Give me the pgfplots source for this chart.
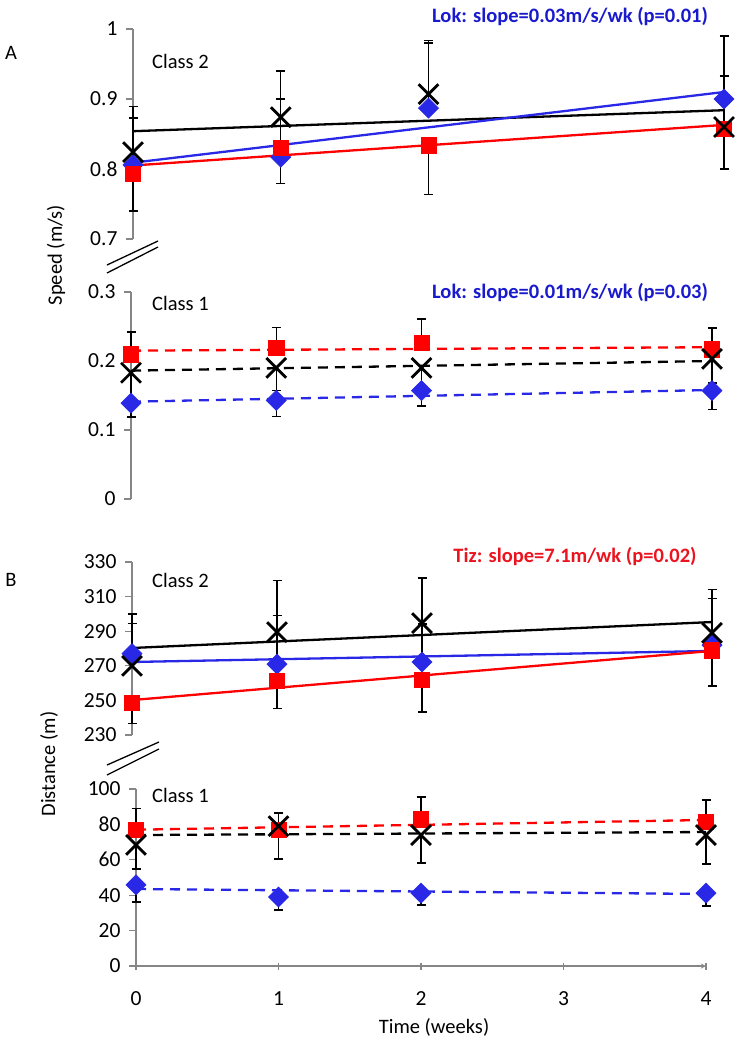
\documentclass[border=0pt]{standalone}
\usepackage{fontspec}
\setmainfont{Carlito}
\usepackage{pgfplots}
\usepackage{pgfplotstable}
\pgfplotsset{compat=1.18}
\definecolor{cblue}{RGB}{40,40,230}
\definecolor{cred}{RGB}{255,0,0}
\definecolor{cgray}{RGB}{134,134,134}
\definecolor{tblue}{RGB}{25,25,205}
\definecolor{tred}{RGB}{235,20,30}
\newcommand\bigf{\fontsize{20.5}{24}\selectfont}
\newcommand\tickf{\fontsize{21.5}{26}\selectfont}

% Speed, Class 2
\pgfplotstableread{
x black blackE blue blueE red redE
0 0.824 0.065 0.806 0.067 0.793 0.053
1 0.874 0.066 0.817 0.083 0.830 0.051
2 0.907 0.077 0.887 0.093 0.834 0.070
4 0.860 0.073 0.900 0.090 0.858 0.058
}\speedtwo
% Speed, Class 1
\pgfplotstableread{
x black blackE blue blueE red redE
0 0.183 0.040 0.139 0.020 0.210 0.032
1 0.190 0.033 0.143 0.023 0.219 0.030
2 0.190 0.030 0.157 0.022 0.226 0.035
4 0.203 0.035 0.157 0.027 0.217 0.031
}\speedone
% Distance, Class 2
\pgfplotstableread{
x black blackE blue blueE red redE
0 270.0 30.0 277.0 17.5 248.5 12.0
1 289.5 30.0 271.0 28.0 261.2 16.0
2 294.7 26.0 272.2 22.0 261.8 18.5
4 289.0 25.0 282.0 27.0 279.0 20.7
}\disttwo
% Distance, Class 1
\pgfplotstableread{
x black blackE blue blueE red redE
0 68.4 13.6 45.8 9.6 76.8 12.0
1 79.0 18.5 39.0 7.4 76.8  9.6
2 74.0 15.8 41.2 6.7 83.0 12.5
4 74.0 16.4 41.2 7.3 81.4 12.4
}\distone

\pgfplotsset{
  panel/.style={
    scale only axis, anchor=south west, clip=false,
    xmin=0, xmax=4,
    axis y line=left,
    axis line style={cgray, line width=1.3pt, -},
    tick style={cgray, line width=1.3pt},
    tick align=outside, major tick length=7pt,
    ticklabel style={font=\tickf, black},
    yticklabel style={xshift=-5pt},
    /pgf/number format/assume math mode=true,
  },
  errb/.style={draw=none, mark=none, forget plot,
    error bars/.cd, y explicit, y dir=#1,
    error bar style={black, line width=1.3pt},
    error mark options={black, line width=1.3pt, mark size=4.5pt, rotate=90}},
  trend/.style={mark=none, line width=2.3pt, forget plot},
  dsh/.style={dash pattern=on 10pt off 7pt},
  mblack/.style={only marks, mark=x, mark size=14pt, mark options={black, line width=2.8pt}},
  mblue/.style={only marks, mark=square*, mark size=7.1pt, mark options={rotate=45, fill=cblue, draw=cblue, line width=0.6pt}},
  mred/.style={only marks, mark=square*, mark size=7.6pt, mark options={fill=cred, draw=cred, line width=0.4pt}},
}

\begin{document}
\begin{tikzpicture}[x=1pt,y=-1pt]
\useasboundingbox (0,0) rectangle (740,1049);

% ---------- A: Speed, Class 2 ----------
\begin{axis}[panel, axis x line=none, at={(133pt,-239pt)}, width=591pt, height=210pt,
  ymin=0.7, ymax=1, ytick={0.7,0.8,0.9,1}, yticklabels={0.7,0.8,0.9,1}]
\addplot[errb=plus] table[x=x, y=black, y error=blackE] {\speedtwo};
\addplot[errb=plus] table[x=x, y=blue, y error=blueE] {\speedtwo};
\addplot[errb=minus] table[x=x, y=red, y error=redE] {\speedtwo};
\addplot[trend, black] coordinates {(0,0.854) (4,0.884)};
\addplot[trend, cblue] coordinates {(0,0.809) (4,0.910)};
\addplot[trend, cred] coordinates {(0,0.805) (4,0.863)};
\addplot[mblue] table[x=x, y=blue] {\speedtwo};
\addplot[mred] table[x=x, y=red] {\speedtwo};
\addplot[mblack] table[x=x, y=black] {\speedtwo};
\end{axis}

% ---------- A: Speed, Class 1 ----------
\begin{axis}[panel, axis x line=none, at={(131pt,-499pt)}, width=581pt, height=207pt,
  ymin=0, ymax=0.3, ytick={0,0.1,0.2,0.3}, yticklabels={0,0.1,0.2,0.3}]
\addplot[errb=minus] table[x=x, y=black, y error=blackE] {\speedone};
\addplot[errb=minus] table[x=x, y=blue, y error=blueE] {\speedone};
\addplot[errb=plus] table[x=x, y=red, y error=redE] {\speedone};
\addplot[trend, dsh, black] coordinates {(0,0.186) (4,0.200)};
\addplot[trend, dsh, cblue] coordinates {(0,0.141) (4,0.158)};
\addplot[trend, dsh, cred] coordinates {(0,0.215) (4,0.220)};
\addplot[mblue] table[x=x, y=blue] {\speedone};
\addplot[mred] table[x=x, y=red] {\speedone};
\addplot[mblack] table[x=x, y=black] {\speedone};
\end{axis}

% ---------- B: Distance, Class 2 ----------
\begin{axis}[panel, axis x line=none, at={(132pt,-735pt)}, width=580pt, height=173pt,
  ymin=230, ymax=330, ytick={230,250,...,330}, yticklabels={230,250,270,290,310,330}]
\addplot[errb=plus] table[x=x, y=black, y error=blackE] {\disttwo};
\addplot[errb=plus] table[x=x, y=blue, y error=blueE] {\disttwo};
\addplot[errb=minus] table[x=x, y=red, y error=redE] {\disttwo};
\addplot[trend, black] coordinates {(0,280.3) (4,295.3)};
\addplot[trend, cblue] coordinates {(0,272.2) (4,278.6)};
\addplot[trend, cred] coordinates {(0,250.2) (4,278.6)};
\addplot[mblue] table[x=x, y=blue] {\disttwo};
\addplot[mred] table[x=x, y=red] {\disttwo};
\addplot[mblack] table[x=x, y=black] {\disttwo};
\end{axis}

% ---------- B: Distance, Class 1 ----------
\begin{axis}[panel, axis x line=bottom, at={(136pt,-966pt)}, width=570pt, height=177pt,
  ymin=0, ymax=100, ytick={0,20,...,100}, yticklabels={0,20,40,60,80,100},
  xtick={0,1,2,3,4}, xticklabels={0,1,2,3,4},
  xticklabel style={yshift=-19pt}]
\addplot[errb=minus] table[x=x, y=black, y error=blackE] {\distone};
\addplot[errb=minus] table[x=x, y=blue, y error=blueE] {\distone};
\addplot[errb=plus] table[x=x, y=red, y error=redE] {\distone};
\addplot[trend, dsh, black] coordinates {(0,74.0) (4,75.7)};
\addplot[trend, dsh, cblue] coordinates {(0,43.5) (4,40.7)};
\addplot[trend, dsh, cred] coordinates {(0,77.0) (4,82.5)};
\addplot[mblue] table[x=x, y=blue] {\distone};
\addplot[mred] table[x=x, y=red] {\distone};
\addplot[mblack] table[x=x, y=black] {\distone};
\end{axis}

% ---------- annotations ----------
\node[font=\bigf, anchor=center] at (11,53) {A};
\node[font=\bigf, anchor=center] at (11,580) {B};
\node[font=\bigf, anchor=west, inner sep=0] at (152,61) {Class 2};
\node[font=\bigf, anchor=west, inner sep=0] at (152,303) {Class 1};
\node[font=\bigf, anchor=west, inner sep=0] at (152,580) {Class 2};
\node[font=\bigf, anchor=west, inner sep=0] at (152,795) {Class 1};
\node[font=\bigf\bfseries, text=tblue, anchor=center] at (570,17) {Lok: slope=0.03m/s/wk (p=0.01)};
\node[font=\bigf\bfseries, text=tblue, anchor=center] at (570,293) {Lok: slope=0.01m/s/wk (p=0.03)};
\node[font=\bigf\bfseries, text=tred, anchor=center] at (575,556) {Tiz: slope=7.1m/wk (p=0.02)};
\node[font=\bigf, rotate=90, anchor=center] at (56,255) {Speed (m/s)};
\node[font=\bigf, rotate=90, anchor=center] at (49,764) {Distance (m)};
\node[font=\bigf, anchor=center] at (434,1027) {Time (weeks)};
% axis break marks
\draw[line width=1.3pt] (107,265) -- (158,241);
\draw[line width=1.3pt] (107,273) -- (158,247);
\draw[line width=1.3pt] (107,765) -- (159,742);
\draw[line width=1.3pt] (107,775) -- (159,749);
\end{tikzpicture}
\end{document}
